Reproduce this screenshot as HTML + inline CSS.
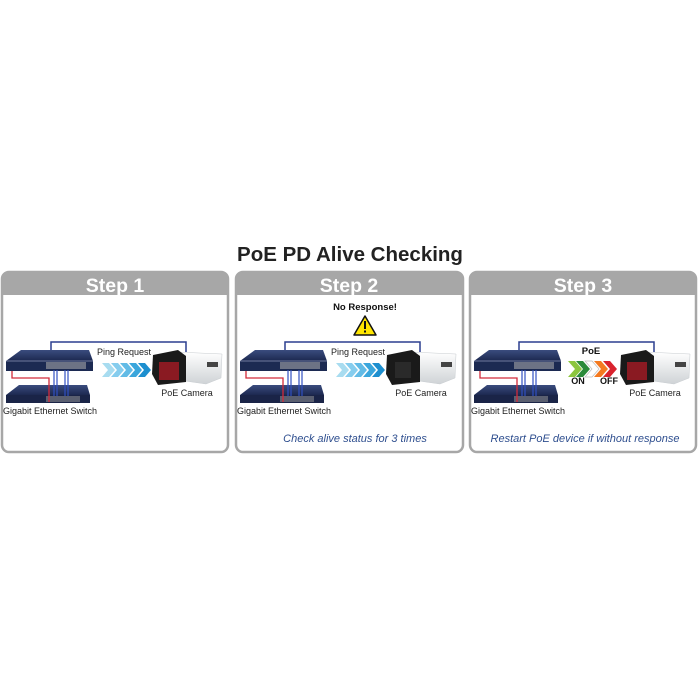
<!DOCTYPE html>
<html><head><meta charset="utf-8"><style>
html,body{margin:0;padding:0;background:#fff;}
svg{display:block;font-family:"Liberation Sans",sans-serif;}
</style></head><body>
<svg width="698" height="698" viewBox="0 0 698 698" xmlns="http://www.w3.org/2000/svg">
<defs>
<linearGradient id="sw" x1="0" y1="0" x2="0" y2="1"><stop offset="0" stop-color="#3a4c7e"/><stop offset="1" stop-color="#1c2850"/></linearGradient>
<linearGradient id="cam" x1="0" y1="0" x2="0" y2="1"><stop offset="0" stop-color="#ffffff"/><stop offset="1" stop-color="#cfd3d6"/></linearGradient>
<g id="net">
  <polyline points="51,361 51,342 186,342 186,352" fill="none" stroke="#2b3f8f" stroke-width="1.5"/>
  <polygon points="6,395 19,385 87,385 90,395" fill="url(#sw)"/>
  <rect x="6" y="395" width="84" height="8" fill="#1a2447"/>
  <rect x="46" y="396" width="34" height="6" fill="#5a5f70"/>
  <polygon points="6,361 21,350 89,350 93,361" fill="url(#sw)"/>
  <rect x="6" y="361" width="87" height="10" fill="#1c2a52"/>
  <rect x="46" y="362" width="40" height="7" fill="#6d7385"/>
  <line x1="6" y1="361" x2="93" y2="361" stroke="#8c96b8" stroke-width="0.8"/>
  <polyline points="12,371 12,378 49,378 49,402" fill="none" stroke="#d22a3a" stroke-width="1.3"/>
  <line x1="54" y1="370" x2="54" y2="396" stroke="#3050c0" stroke-width="1.2"/>
  <line x1="57" y1="370" x2="57" y2="396" stroke="#3050c0" stroke-width="1.2"/>
  <line x1="65" y1="370" x2="65" y2="396" stroke="#3050c0" stroke-width="1.2"/>
  <line x1="68" y1="370" x2="68" y2="396" stroke="#3050c0" stroke-width="1.2"/>
  <polygon points="176,352 222,354 221,378 206,384 178,380" fill="url(#cam)" stroke="#c8ccd0" stroke-width="0.5"/>
  <rect x="207" y="362" width="11" height="5" fill="#444"/>
  <polygon points="153,355 178,350 186,356 186,382 158,385 152,374" fill="#1a1a1a"/>
</g>
<g id="arrows">
  <polygon points="102,363 109,363 115,370 109,377 102,377 108,370" fill="#a8dcf0"/>
  <polygon points="111,363 118,363 124,370 118,377 111,377 117,370" fill="#86cdee"/>
  <polygon points="120,363 127,363 133,370 127,377 120,377 126,370" fill="#62bbe6"/>
  <polygon points="129,363 136,363 142,370 136,377 129,377 135,370" fill="#3aa6dc"/>
  <polygon points="138,363 145,363 151,370 145,377 138,377 144,370" fill="#1d8fcf"/>
</g>
</defs>

<text x="350" y="261" text-anchor="middle" font-size="20.5" font-weight="bold" fill="#222">PoE PD Alive Checking</text>

<g>
  <rect x="2" y="272" width="226" height="180" rx="7" fill="#fff" stroke="#a7a7a7" stroke-width="2.5"/>
  <path d="M2,295 V279 a7,7 0 0 1 7,-7 H221 a7,7 0 0 1 7,7 V295 Z" fill="#a7a7a7"/>
  <text x="115" y="292" text-anchor="middle" font-size="19.5" font-weight="bold" fill="#fff">Step 1</text>
</g>
<g>
  <rect x="236" y="272" width="227" height="180" rx="7" fill="#fff" stroke="#a7a7a7" stroke-width="2.5"/>
  <path d="M236,295 V279 a7,7 0 0 1 7,-7 H456 a7,7 0 0 1 7,7 V295 Z" fill="#a7a7a7"/>
  <text x="349" y="292" text-anchor="middle" font-size="19.5" font-weight="bold" fill="#fff">Step 2</text>
</g>
<g>
  <rect x="470" y="272" width="226" height="180" rx="7" fill="#fff" stroke="#a7a7a7" stroke-width="2.5"/>
  <path d="M470,295 V279 a7,7 0 0 1 7,-7 H689 a7,7 0 0 1 7,7 V295 Z" fill="#a7a7a7"/>
  <text x="583" y="292" text-anchor="middle" font-size="19.5" font-weight="bold" fill="#fff">Step 3</text>
</g>

<use href="#net"/>
<use href="#arrows"/>
<rect x="159" y="362" width="20" height="18" fill="#8a1a22"/>
<text x="124" y="355" text-anchor="middle" font-size="9" fill="#222">Ping Request</text>
<text x="187" y="396" text-anchor="middle" font-size="9" fill="#222">PoE Camera</text>
<text x="3" y="414" font-size="9" fill="#222">Gigabit Ethernet Switch</text>

<g transform="translate(234,0)">
  <use href="#net"/>
  <use href="#arrows"/>
  <rect x="161" y="362" width="16" height="16" fill="#2a2a2a"/>
  <text x="124" y="355" text-anchor="middle" font-size="9" fill="#222">Ping Request</text>
  <text x="187" y="396" text-anchor="middle" font-size="9" fill="#222">PoE Camera</text>
  <text x="3" y="414" font-size="9" fill="#222">Gigabit Ethernet Switch</text>
</g>
<text x="365" y="310" text-anchor="middle" font-size="9.5" font-weight="bold" fill="#111">No Response!</text>
<polygon points="365,316 376,335 354,335" fill="#ffe600" stroke="#111" stroke-width="1.5" stroke-linejoin="round"/>
<rect x="364" y="321" width="2" height="8" fill="#111"/>
<rect x="364" y="330.5" width="2" height="2" fill="#111"/>
<text x="355" y="442" text-anchor="middle" font-size="11" font-style="italic" fill="#2f4f8f">Check alive status for 3 times</text>

<g transform="translate(468,0)">
  <use href="#net"/>
  <rect x="159" y="362" width="20" height="18" fill="#8a1a22"/>
  <polygon points="100,361 107,361 114,369 107,377 100,377 107,369" fill="#8cc63f"/>
  <polygon points="108,361 115,361 122,369 115,377 108,377 115,369" fill="#2a8a3a"/>
  <polygon points="117,361 124,361 131,369 124,377 117,377 124,369" fill="#fff" stroke="#bbb" stroke-width="0.7"/>
  <polygon points="126,361 133,361 140,369 133,377 126,377 133,369" fill="#f47a20"/>
  <polygon points="135,361 142,361 149,369 142,377 135,377 142,369" fill="#d9232e"/>
  <text x="123" y="354" text-anchor="middle" font-size="9.5" font-weight="bold" fill="#111">PoE</text>
  <text x="110" y="384" text-anchor="middle" font-size="9" font-weight="bold" fill="#111">ON</text>
  <text x="141" y="384" text-anchor="middle" font-size="9" font-weight="bold" fill="#111">OFF</text>
  <text x="187" y="396" text-anchor="middle" font-size="9" fill="#222">PoE Camera</text>
  <text x="3" y="414" font-size="9" fill="#222">Gigabit Ethernet Switch</text>
</g>
<text x="585" y="442" text-anchor="middle" font-size="11" font-style="italic" fill="#2f4f8f">Restart PoE device if without response</text>
</svg>
</body></html>
